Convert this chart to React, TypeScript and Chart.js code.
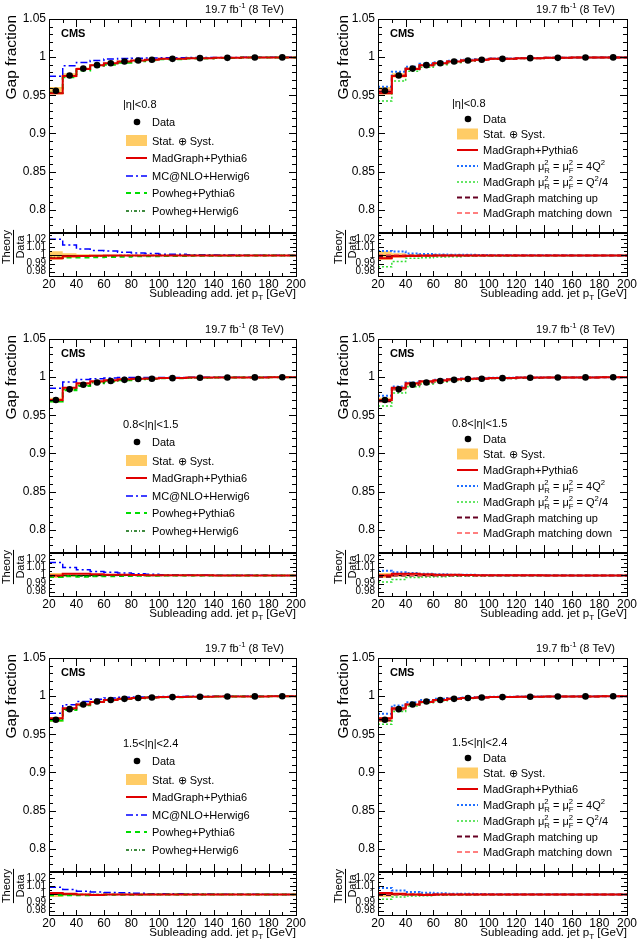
import React, { useEffect, useRef } from "react";
import { Chart, registerables } from "chart.js";

Chart.register(...registerables);

const FONT = '"Liberation Sans", Arial, Helvetica, sans-serif';

// ---------------- data ----------------
const BIN_EDGES = [20, 30, 40, 50, 60, 70, 80, 90, 100, 120, 140, 160, 180, 200];
const BIN_CENTERS = [25, 35, 45, 55, 65, 75, 85, 95, 110, 130, 150, 170, 190];
const MAIN_Y_TICKS = [0.8, 0.85, 0.9, 0.95, 1, 1.05];
const RATIO_Y_TICKS = [0.98, 0.99, 1, 1.01, 1.02];
const ETA_LABELS = ["|η|<0.8", "0.8<|η|<1.5", "1.5<|η|<2.4"];

// |eta| < 0.8
const DATA_ETA1 = [0.956, 0.976, 0.985, 0.9895, 0.992, 0.9943, 0.9957, 0.9966, 0.9978, 0.9987, 0.9991, 0.9995, 0.9997];
const UNC_ETA1 = [0.005, 0.0028, 0.0016, 0.0011, 0.0009, 0.0007, 0.0006, 0.0005, 0.0004, 0.0003, 0.0002, 0.0002, 0.0001];
const MADGRAPH_ETA1 = [0.9527, 0.9752, 0.9845, 0.9893, 0.9919, 0.9943, 0.9957, 0.9966, 0.9978, 0.9987, 0.9991, 0.9995, 0.9997];
const MCNLO_ETA1 = [0.9751, 0.9887, 0.9929, 0.9957, 0.9975, 0.9983, 0.9987, 0.999, 0.9993, 0.9997, 0.9997, 0.9999, 1.0];
const POWHEG_PY_ETA1 = [0.9531, 0.9736, 0.9825, 0.9873, 0.99, 0.9928, 0.9947, 0.9958, 0.9973, 0.9984, 0.9989, 0.9994, 0.9997];
const POWHEG_HW_ETA1 = [0.9536, 0.975, 0.9842, 0.989, 0.9917, 0.9943, 0.9957, 0.9966, 0.9978, 0.9987, 0.9991, 0.9995, 0.9997];
const SCALE_4Q2_ETA1 = [0.9613, 0.9809, 0.9875, 0.9913, 0.9932, 0.9953, 0.9965, 0.9972, 0.9982, 0.999, 0.9993, 0.9996, 0.9998];
const SCALE_Q2D4_ETA1 = [0.9426, 0.9687, 0.9816, 0.9867, 0.99, 0.9928, 0.9947, 0.9959, 0.9973, 0.9984, 0.9989, 0.9994, 0.9996];
const MATCH_UP_ETA1 = [0.9546, 0.9755, 0.985, 0.9895, 0.992, 0.9943, 0.9957, 0.9966, 0.9978, 0.9987, 0.9991, 0.9995, 0.9997];
const MATCH_DOWN_ETA1 = [0.9565, 0.9765, 0.9853, 0.9897, 0.9921, 0.9944, 0.9958, 0.9966, 0.9978, 0.9987, 0.9991, 0.9995, 0.9997];

// 0.8 < |eta| < 1.5
const DATA_ETA2 = [0.97, 0.984, 0.99, 0.993, 0.995, 0.9965, 0.9975, 0.998, 0.9987, 0.9992, 0.9995, 0.9997, 0.9998];
const UNC_ETA2 = [0.003, 0.0015, 0.001, 0.0008, 0.0006, 0.0005, 0.0004, 0.0003, 0.0003, 0.0002, 0.0002, 0.0001, 0.0001];
const MADGRAPH_ETA2 = [0.97, 0.986, 0.992, 0.9945, 0.996, 0.9973, 0.998, 0.9984, 0.999, 0.9994, 0.9996, 0.9997, 0.9998];
const MCNLO_ETA2 = [0.9855, 0.9938, 0.9969, 0.998, 0.999, 0.9995, 0.9995, 0.9995, 0.9997, 0.9998, 0.9999, 0.9999, 0.9999];
const POWHEG_PY_ETA2 = [0.9681, 0.983, 0.9885, 0.992, 0.9942, 0.996, 0.9972, 0.9978, 0.9986, 0.9991, 0.9994, 0.9997, 0.9998];
const POWHEG_HW_ETA2 = [0.969, 0.984, 0.9895, 0.9928, 0.9949, 0.9964, 0.9975, 0.998, 0.9987, 0.9992, 0.9995, 0.9997, 0.9998];
const SCALE_4Q2_ETA2 = [0.9758, 0.9879, 0.993, 0.995, 0.9965, 0.9975, 0.9983, 0.9986, 0.9991, 0.9995, 0.9997, 0.9998, 0.9999];
const SCALE_Q2D4_ETA2 = [0.9622, 0.9791, 0.9875, 0.991, 0.9935, 0.9955, 0.9968, 0.9975, 0.9984, 0.999, 0.9994, 0.9997, 0.9998];
const MATCH_UP_ETA2 = [0.9685, 0.984, 0.99, 0.993, 0.995, 0.9965, 0.9975, 0.998, 0.9987, 0.9992, 0.9995, 0.9997, 0.9998];
const MATCH_DOWN_ETA2 = [0.9705, 0.9845, 0.9902, 0.9931, 0.995, 0.9965, 0.9975, 0.998, 0.9987, 0.9992, 0.9995, 0.9997, 0.9998];

// 1.5 < |eta| < 2.4
const DATA_ETA3 = [0.969, 0.983, 0.989, 0.993, 0.995, 0.9965, 0.9975, 0.9982, 0.9988, 0.9993, 0.9995, 0.9997, 0.9998];
const UNC_ETA3 = [0.003, 0.0015, 0.001, 0.0008, 0.0006, 0.0005, 0.0004, 0.0003, 0.0003, 0.0002, 0.0002, 0.0001, 0.0001];
const MADGRAPH_ETA3 = [0.9709, 0.984, 0.989, 0.9925, 0.995, 0.9965, 0.9975, 0.9982, 0.9988, 0.9993, 0.9995, 0.9997, 0.9998];
const MCNLO_ETA3 = [0.9777, 0.9889, 0.993, 0.996, 0.9975, 0.9985, 0.999, 0.9992, 0.9996, 0.9998, 0.9998, 0.9999, 0.9999];
const POWHEG_PY_ETA3 = [0.968, 0.982, 0.9882, 0.9925, 0.9946, 0.9962, 0.9973, 0.9981, 0.9987, 0.9992, 0.9995, 0.9997, 0.9998];
const POWHEG_HW_ETA3 = [0.97, 0.983, 0.989, 0.993, 0.995, 0.9965, 0.9975, 0.9982, 0.9988, 0.9993, 0.9995, 0.9997, 0.9998];
const SCALE_4Q2_ETA3 = [0.9768, 0.9879, 0.992, 0.995, 0.9965, 0.9975, 0.9983, 0.9988, 0.9992, 0.9996, 0.9997, 0.9998, 0.9999];
const SCALE_Q2D4_ETA3 = [0.9632, 0.98, 0.987, 0.9915, 0.994, 0.9958, 0.997, 0.9979, 0.9986, 0.9992, 0.9994, 0.9997, 0.9998];
const MATCH_UP_ETA3 = [0.9685, 0.983, 0.989, 0.993, 0.995, 0.9965, 0.9975, 0.9982, 0.9988, 0.9993, 0.9995, 0.9997, 0.9998];
const MATCH_DOWN_ETA3 = [0.9695, 0.9832, 0.989, 0.993, 0.995, 0.9965, 0.9975, 0.9982, 0.9988, 0.9993, 0.9995, 0.9997, 0.9998];

// ---------------- styles / labels ----------------
type Seg = { t?: string; sup?: string; sub?: string };
type Style = { color: string; width: number; dash: number[] };

const ST_MG: Style = { color: "#e00000", width: 2, dash: [] };
const ST_NLO: Style = { color: "#0000ff", width: 1.5, dash: [7, 3, 2, 3] };
const ST_PP: Style = { color: "#00dd00", width: 2, dash: [5, 4] };
const ST_PH: Style = { color: "#006600", width: 1.5, dash: [3, 2, 1, 2] };
const ST_Q4: Style = { color: "#1e6eff", width: 2, dash: [2, 2] };
const ST_QD: Style = { color: "#33dd33", width: 1.5, dash: [2, 2] };
const ST_MU: Style = { color: "#660022", width: 2, dash: [5, 3] };
const ST_MD: Style = { color: "#ff5555", width: 1.5, dash: [5, 3] };
const BAND_COLOR = "#ffcc66";

const LBL_MG: Seg[] = [{ t: "MadGraph+Pythia6" }];
const LBL_NLO: Seg[] = [{ t: "MC@NLO+Herwig6" }];
const LBL_PP: Seg[] = [{ t: "Powheg+Pythia6" }];
const LBL_PH: Seg[] = [{ t: "Powheg+Herwig6" }];
const LBL_Q4: Seg[] = [{ t: "MadGraph μ" }, { sup: "2", sub: "R" }, { t: " = μ" }, { sup: "2", sub: "F" }, { t: " = 4Q" }, { sup: "2" }];
const LBL_QD: Seg[] = [{ t: "MadGraph μ" }, { sup: "2", sub: "R" }, { t: " = μ" }, { sup: "2", sub: "F" }, { t: " = Q" }, { sup: "2" }, { t: "/4" }];
const LBL_MU: Seg[] = [{ t: "MadGraph matching up" }];
const LBL_MD: Seg[] = [{ t: "MadGraph matching down" }];
const LUMI: Seg[] = [{ t: "19.7 fb" }, { sup: "-1" }, { t: " (8 TeV)" }];
const XTITLE: Seg[] = [{ t: "Subleading add. jet p" }, { sub: "T" }, { t: " [GeV]" }];

type Model = { label: Seg[]; values: number[]; style: Style };
type PanelCfg = {
  left: number; top: number; w: number; kind: "gen" | "mg";
  eta: string; data: number[]; unc: number[]; models: Model[];
};

const genModels = (mg: number[], nlo: number[], pp: number[], ph: number[]): Model[] => [
  { label: LBL_MG, values: mg, style: ST_MG },
  { label: LBL_NLO, values: nlo, style: ST_NLO },
  { label: LBL_PP, values: pp, style: ST_PP },
  { label: LBL_PH, values: ph, style: ST_PH },
];
const mgModels = (mg: number[], q4: number[], qd: number[], mu: number[], md: number[]): Model[] => [
  { label: LBL_MG, values: mg, style: ST_MG },
  { label: LBL_Q4, values: q4, style: ST_Q4 },
  { label: LBL_QD, values: qd, style: ST_QD },
  { label: LBL_MU, values: mu, style: ST_MU },
  { label: LBL_MD, values: md, style: ST_MD },
];

const ROW_TOPS = [0, 320, 639];
const PANEL_H = 319;

const PANELS: PanelCfg[] = [
  { left: 0, top: ROW_TOPS[0], w: 318, kind: "gen", eta: ETA_LABELS[0], data: DATA_ETA1, unc: UNC_ETA1, models: genModels(MADGRAPH_ETA1, MCNLO_ETA1, POWHEG_PY_ETA1, POWHEG_HW_ETA1) },
  { left: 329, top: ROW_TOPS[0], w: 308, kind: "mg", eta: ETA_LABELS[0], data: DATA_ETA1, unc: UNC_ETA1, models: mgModels(MADGRAPH_ETA1, SCALE_4Q2_ETA1, SCALE_Q2D4_ETA1, MATCH_UP_ETA1, MATCH_DOWN_ETA1) },
  { left: 0, top: ROW_TOPS[1], w: 318, kind: "gen", eta: ETA_LABELS[1], data: DATA_ETA2, unc: UNC_ETA2, models: genModels(MADGRAPH_ETA2, MCNLO_ETA2, POWHEG_PY_ETA2, POWHEG_HW_ETA2) },
  { left: 329, top: ROW_TOPS[1], w: 308, kind: "mg", eta: ETA_LABELS[1], data: DATA_ETA2, unc: UNC_ETA2, models: mgModels(MADGRAPH_ETA2, SCALE_4Q2_ETA2, SCALE_Q2D4_ETA2, MATCH_UP_ETA2, MATCH_DOWN_ETA2) },
  { left: 0, top: ROW_TOPS[2], w: 318, kind: "gen", eta: ETA_LABELS[2], data: DATA_ETA3, unc: UNC_ETA3, models: genModels(MADGRAPH_ETA3, MCNLO_ETA3, POWHEG_PY_ETA3, POWHEG_HW_ETA3) },
  { left: 329, top: ROW_TOPS[2], w: 308, kind: "mg", eta: ETA_LABELS[2], data: DATA_ETA3, unc: UNC_ETA3, models: mgModels(MADGRAPH_ETA3, SCALE_4Q2_ETA3, SCALE_Q2D4_ETA3, MATCH_UP_ETA3, MATCH_DOWN_ETA3) },
];

// ---------------- helpers ----------------
const steps = (vals: number[]) =>
  BIN_EDGES.map((e, i) => ({ x: e, y: vals[Math.min(i, vals.length - 1)] }));
const fmt = (v: any) => String(parseFloat(Number(v).toFixed(3)));

function richWidth(ctx: CanvasRenderingContext2D, segs: Seg[], size: number) {
  let w = 0;
  for (const s of segs) {
    if (s.t !== undefined) {
      ctx.font = `${size}px ${FONT}`;
      w += ctx.measureText(s.t).width;
    } else {
      ctx.font = `${size * 0.7}px ${FONT}`;
      w += Math.max(s.sup ? ctx.measureText(s.sup).width : 0, s.sub ? ctx.measureText(s.sub).width : 0);
    }
  }
  return w;
}

function drawRich(ctx: CanvasRenderingContext2D, segs: Seg[], x: number, y: number, size: number, align: "left" | "right" = "left") {
  const w = richWidth(ctx, segs, size);
  let cx = align === "right" ? x - w : x;
  ctx.textAlign = "left";
  ctx.textBaseline = "alphabetic";
  for (const s of segs) {
    if (s.t !== undefined) {
      ctx.font = `${size}px ${FONT}`;
      ctx.fillText(s.t, cx, y);
      cx += ctx.measureText(s.t).width;
    } else {
      ctx.font = `${size * 0.7}px ${FONT}`;
      let sw = 0;
      if (s.sup) { ctx.fillText(s.sup, cx, y - size * 0.42); sw = Math.max(sw, ctx.measureText(s.sup).width); }
      if (s.sub) { ctx.fillText(s.sub, cx, y + size * 0.28); sw = Math.max(sw, ctx.measureText(s.sub).width); }
      cx += sw;
    }
  }
}

function makePlugin(p: PanelCfg) {
  return {
    id: "rootStyle",
    afterDatasetsDraw(chart: any) {
      const ctx: CanvasRenderingContext2D = chart.ctx;
      const xs = chart.scales.x, ys = chart.scales.y, yr = chart.scales.yr;
      const L = Math.round(xs.left), R = Math.round(xs.right);
      const mt = Math.round(ys.top), mb = Math.round(ys.bottom);
      const rt = Math.round(yr.top), rb = Math.round(yr.bottom);
      ctx.save();
      ctx.strokeStyle = "#000";
      ctx.setLineDash([]);
      ctx.lineWidth = 1;
      const seg = (x1: number, y1: number, x2: number, y2: number) => {
        ctx.beginPath(); ctx.moveTo(x1, y1); ctx.lineTo(x2, y2); ctx.stroke();
      };
      for (let v = 30; v < 200; v += 10) {
        const x = Math.round(xs.getPixelForValue(v)) + 0.5;
        const major = v % 20 === 0;
        const lm = major ? 8 : 4, lr = major ? 5 : 3;
        seg(x, mt, x, mt + lm); seg(x, mb, x, mb - lm);
        seg(x, rt, x, rt + lr); seg(x, rb, x, rb - lr);
      }
      for (let k = 78; k <= 104; k++) {
        const y = Math.round(ys.getPixelForValue(k / 100)) + 0.5;
        const l = k % 5 === 0 ? 7 : 4;
        seg(L, y, L + l, y); seg(R, y, R - l, y);
      }
      for (let k = 195; k <= 205; k++) {
        const y = Math.round(yr.getPixelForValue(k / 200)) + 0.5;
        const l = k % 2 === 0 ? 6 : 3;
        seg(L, y, L + l, y); seg(R, y, R - l, y);
      }
      ctx.strokeRect(L + 0.5, mt + 0.5, R - L, mb - mt);
      ctx.strokeRect(L + 0.5, rt + 0.5, R - L, rb - rt);
      ctx.lineWidth = 2;
      seg(L, mb, R + 1, mb);
      ctx.restore();
    },
    afterDraw(chart: any) {
      const ctx: CanvasRenderingContext2D = chart.ctx;
      const xs = chart.scales.x;
      const L = Math.round(xs.left), R = Math.round(xs.right);
      const dx = p.kind === "mg" ? 3 : 0;
      ctx.save();
      ctx.fillStyle = "#000";
      drawRich(ctx, LUMI, R - 12, 13, 11, "right");
      ctx.font = `bold 11px ${FONT}`;
      ctx.textAlign = "left";
      ctx.fillText("CMS", L + 12, 37);
      // y title
      ctx.save();
      ctx.translate(16 + dx, 15);
      ctx.rotate(-Math.PI / 2);
      ctx.font = `15.5px ${FONT}`;
      ctx.textAlign = "right";
      ctx.fillText("Gap fraction", 0, 0);
      ctx.restore();
      // Theory / Data
      ctx.font = `11px ${FONT}`;
      const wT = ctx.measureText("Theory").width;
      ctx.save();
      ctx.translate(9.5 + dx, 247);
      ctx.rotate(-Math.PI / 2);
      ctx.textAlign = "center";
      ctx.fillText("Theory", 0, 0);
      ctx.restore();
      ctx.save();
      ctx.translate(23.5 + dx, 247);
      ctx.rotate(-Math.PI / 2);
      ctx.textAlign = "center";
      ctx.fillText("Data", 0, 0);
      ctx.restore();
      ctx.fillRect(13 + dx, 247 - wT / 2, 1, wT);
      // x title
      drawRich(ctx, XTITLE, R, 297, 11.6, "right");
      // eta label + legend
      const gen = p.kind === "gen";
      ctx.font = `11px ${FONT}`;
      ctx.textAlign = "left";
      ctx.fillText(p.eta, L + 74, gen ? 108 : 107);
      const mx = L + (gen ? 88 : 90);
      const bx0 = L + (gen ? 77 : 79), bx1 = L + (gen ? 98 : 100);
      const tx = L + (gen ? 103 : 105);
      const rows = gen ? [122, 140.5, 158, 176, 193, 211] : [119, 134, 150, 166, 182, 197.5, 213];
      ctx.beginPath(); ctx.arc(mx, rows[0], 3.3, 0, Math.PI * 2); ctx.fill();
      drawRich(ctx, [{ t: "Data" }], tx, rows[0] + 4, 11);
      ctx.fillStyle = BAND_COLOR;
      ctx.fillRect(bx0, rows[1] - 5.5, bx1 - bx0, 11);
      ctx.fillStyle = "#000";
      drawRich(ctx, [{ t: "Stat. ⊕ Syst." }], tx, rows[1] + 4, 11);
      p.models.forEach((m, i) => {
        const ry = rows[i + 2];
        ctx.save();
        ctx.strokeStyle = m.style.color;
        ctx.lineWidth = m.style.width;
        ctx.setLineDash(m.style.dash);
        ctx.beginPath(); ctx.moveTo(bx0, ry); ctx.lineTo(bx1, ry); ctx.stroke();
        ctx.restore();
        drawRich(ctx, m.label, tx, ry + 4, 11);
      });
      ctx.restore();
    },
  };
}

function buildConfig(p: PanelCfg): any {
  const ratioBandHi = p.data.map((d, i) => 1 + p.unc[i] / d);
  const ratioBandLo = p.data.map((d, i) => 1 - p.unc[i] / d);
  const datasets: any[] = [];
  const line = (vals: number[], st: Style, axis: string, order: number) => ({
    type: "line", data: steps(vals), yAxisID: axis, xAxisID: "x",
    borderColor: st.color, borderWidth: st.width, borderDash: st.dash,
    stepped: "before", pointRadius: 0, fill: false, order,
  });
  datasets.push({
    type: "line", data: BIN_CENTERS.map((c, i) => ({ x: c, y: p.data[i] })),
    yAxisID: "y", xAxisID: "x", showLine: false, pointRadius: 3.3,
    pointBackgroundColor: "#000", pointBorderColor: "#000", pointBorderWidth: 0, order: 0,
  });
  const nm = p.models.length;
  p.models.forEach((m, i) => {
    const ord = m.style === ST_MG ? 1 : 2 + (nm - i);
    datasets.push(line(m.values, m.style, "y", ord));
    datasets.push(line(m.values.map((v, j) => v / p.data[j]), m.style, "yr", ord));
  });
  const band = (vals: number[], axis: string, fill: any, order: number) => ({
    type: "line", data: steps(vals), yAxisID: axis, xAxisID: "x",
    borderColor: "rgba(0,0,0,0)", borderWidth: 0, pointRadius: 0, stepped: "before",
    fill, backgroundColor: BAND_COLOR, order,
  });
  datasets.push(band(p.data.map((d, i) => d + p.unc[i]), "y", "+1", 30));
  datasets.push(band(p.data.map((d, i) => d - p.unc[i]), "y", false, 31));
  datasets.push(band(ratioBandHi, "yr", "+1", 30));
  datasets.push(band(ratioBandLo, "yr", false, 31));
  datasets.push({
    type: "line", data: [{ x: 20, y: 1 }, { x: 200, y: 1 }], yAxisID: "yr", xAxisID: "x",
    borderColor: "#000", borderWidth: 1, pointRadius: 0, fill: false, order: 20,
  });

  const plotRight = p.kind === "gen" ? 296 : 298;
  return {
    type: "line",
    data: { datasets },
    options: {
      animation: false,
      responsive: false,
      devicePixelRatio: 1,
      layout: { padding: { top: 19, right: p.w - plotRight, left: 0, bottom: 0 } },
      plugins: { legend: { display: false }, tooltip: { enabled: false }, title: { display: false } },
      scales: {
        x: {
          type: "linear", position: "bottom", min: 20, max: 200,
          grid: { display: false, drawTicks: false }, border: { display: false },
          ticks: { stepSize: 20, autoSkip: false, maxRotation: 0, padding: 1, color: "#000", font: { family: FONT, size: 12 } },
          afterFit: (s: any) => { s.height = PANEL_H - 276; s.paddingLeft = 0; s.paddingRight = 0; },
        },
        yr: {
          type: "linear", position: "left", stack: "v", stackWeight: 43.3, min: 0.9747, max: 1.0281,
          grid: { display: false, drawTicks: false }, border: { display: false },
          ticks: { autoSkip: false, padding: 3, color: "#000", font: { family: FONT, size: 10, lineHeight: 1 }, callback: fmt },
          afterBuildTicks: (s: any) => { s.ticks = RATIO_Y_TICKS.map((v) => ({ value: v })); },
          afterFit: (s: any) => { s.width = 49; s.paddingTop = 0; s.paddingBottom = 0; },
        },
        y: {
          type: "linear", position: "left", stack: "v", stackWeight: 213.7, min: 0.77, max: 1.05,
          grid: { display: false, drawTicks: false }, border: { display: false },
          ticks: { autoSkip: false, padding: 3, color: "#000", font: { family: FONT, size: 12 }, callback: fmt },
          afterBuildTicks: (s: any) => { s.ticks = MAIN_Y_TICKS.map((v) => ({ value: v })); },
          afterFit: (s: any) => { s.width = 49; s.paddingTop = 0; s.paddingBottom = 0; },
        },
      },
    },
    plugins: [makePlugin(p)],
  };
}

function Panel({ cfg }: { cfg: PanelCfg }) {
  const ref = useRef<HTMLCanvasElement>(null);
  useEffect(() => {
    if (!ref.current) return;
    const chart = new Chart(ref.current, buildConfig(cfg));
    return () => chart.destroy();
  }, [cfg]);
  return (
    <canvas
      ref={ref}
      width={cfg.w}
      height={PANEL_H}
      style={{ position: "absolute", left: cfg.left, top: cfg.top, width: cfg.w, height: PANEL_H }}
    />
  );
}

export default function App() {
  return (
    <div style={{ position: "fixed", left: 0, top: 0, width: 637, height: 941, overflow: "hidden", background: "#fff" }}>
      {PANELS.map((p, i) => (
        <Panel key={i} cfg={p} />
      ))}
    </div>
  );
}
